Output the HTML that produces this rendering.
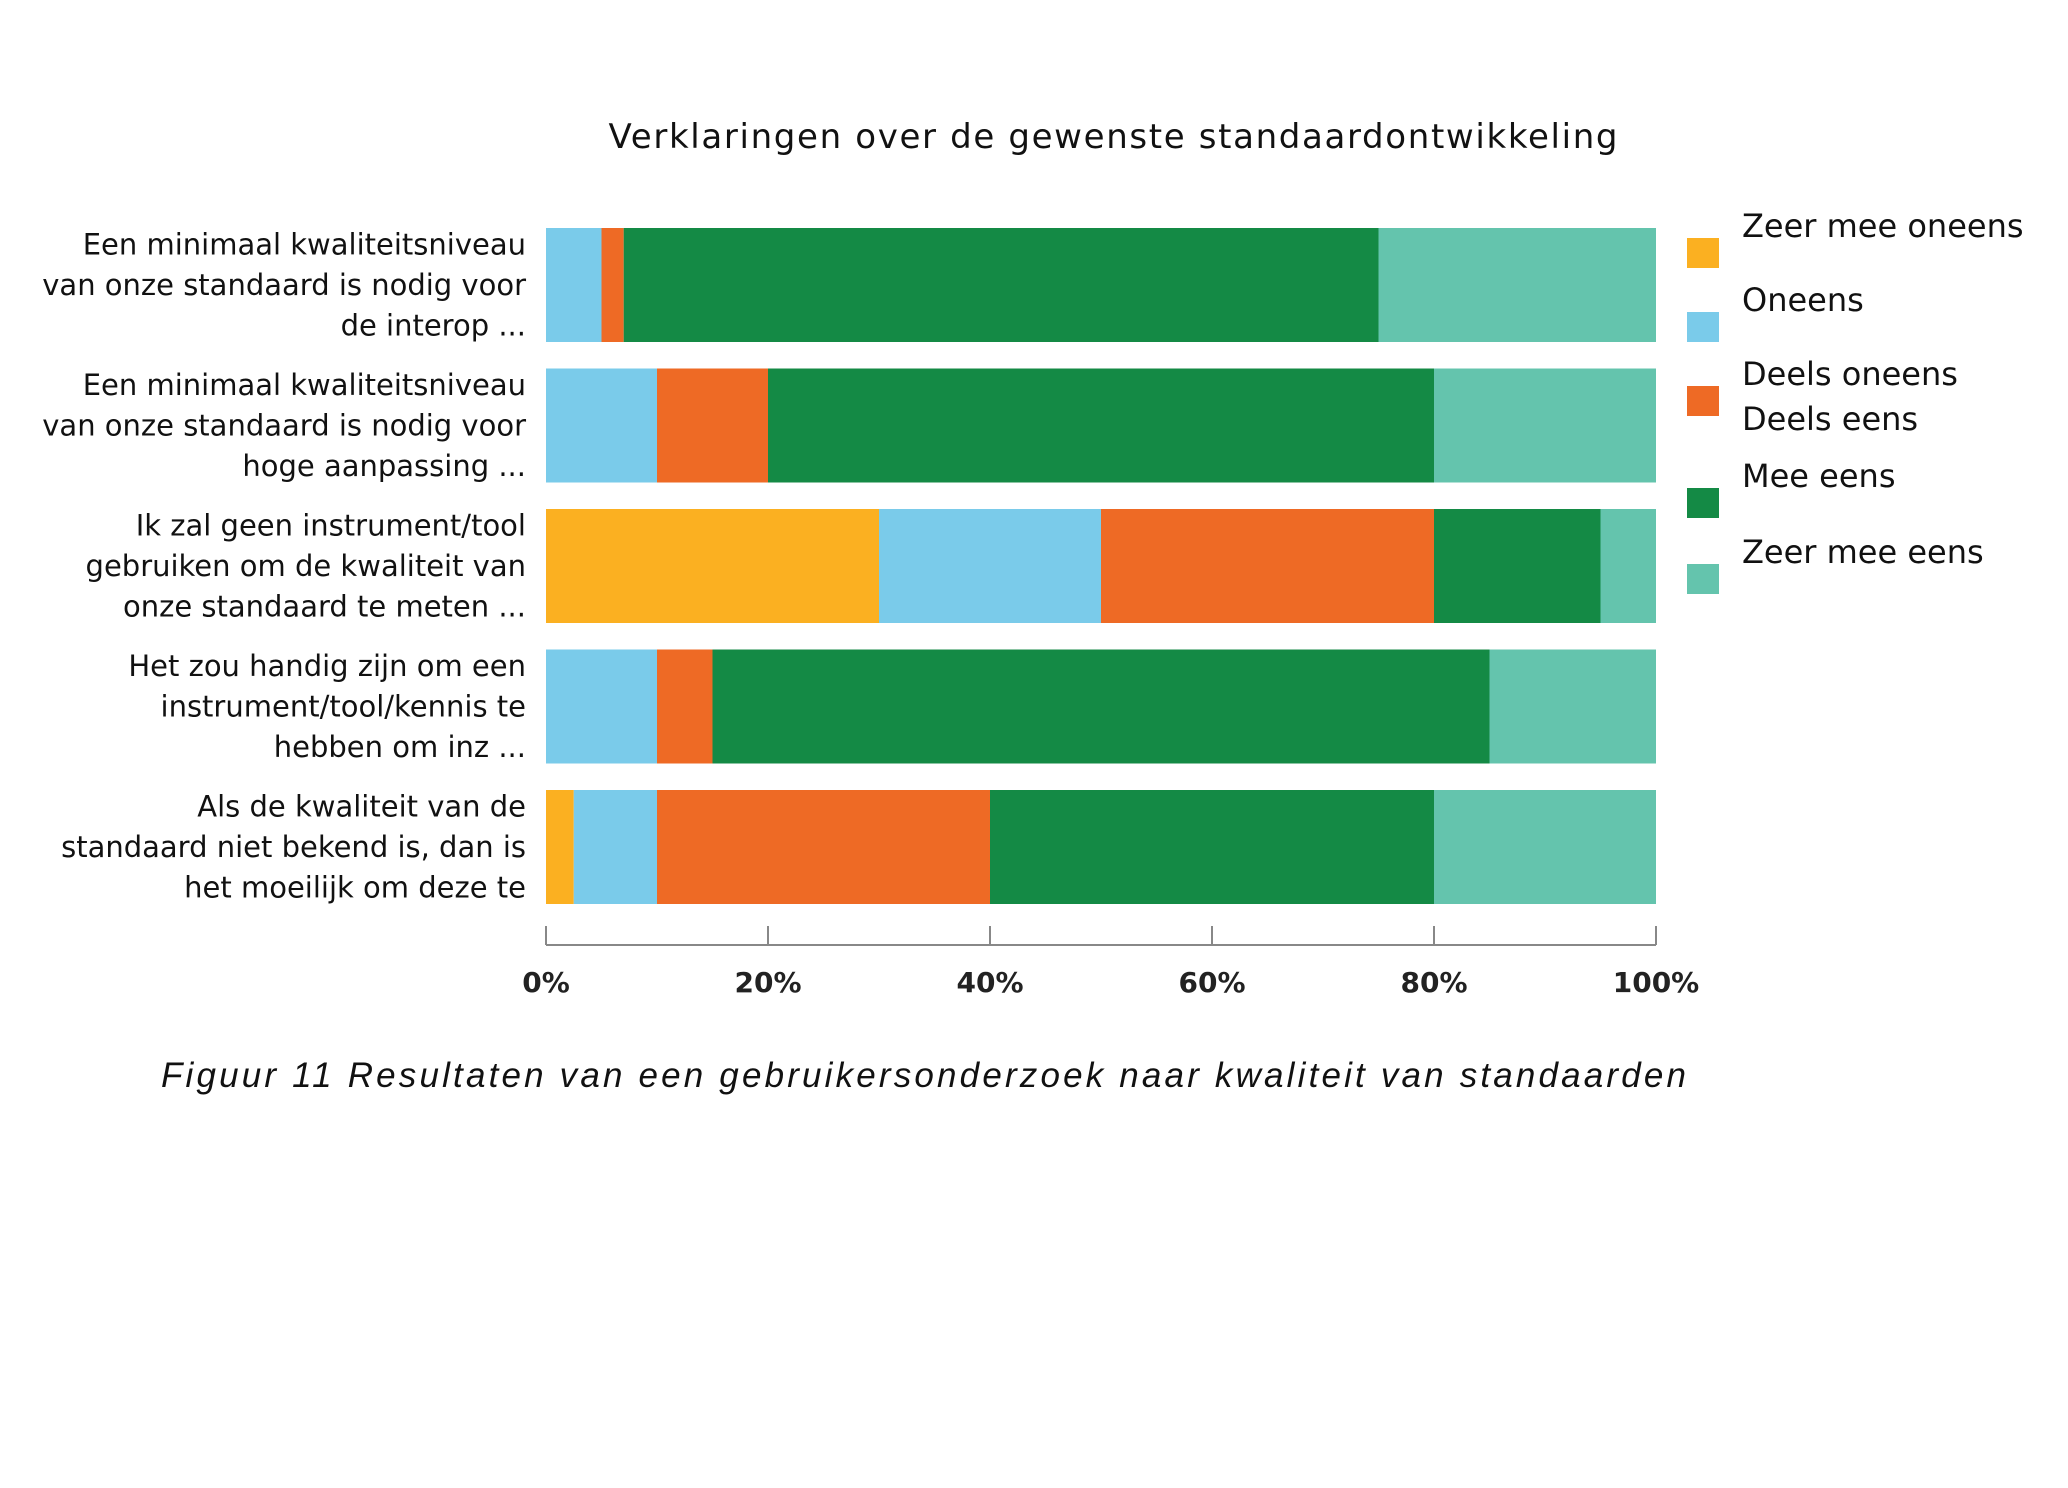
<!DOCTYPE html>
<html><head><meta charset="utf-8"><style>
html,body{margin:0;padding:0;background:#fff;}
svg{display:block;}
</style></head><body>
<svg id="chart" width="2068" height="1488" viewBox="0 0 2068 1488" xmlns="http://www.w3.org/2000/svg">
<rect width="2068" height="1488" fill="#fff"/>
<text x="1113" y="148" text-anchor="middle" font-family="DejaVu Sans, sans-serif" font-size="34" textLength="1009" fill="#111">Verklaringen over de gewenste standaardontwikkeling</text>
<g id="bars"></g>
<g id="labels"></g>
<g id="axis"></g>
<g id="legend"></g>
<text x="161" y="1087" font-family="Liberation Sans, sans-serif" font-style="italic" font-size="35" textLength="1525" fill="#111">Figuur 11 Resultaten van een gebruikersonderzoek naar kwaliteit van standaarden</text>
</svg>
<script>
const categories = [
  ["Een minimaal kwaliteitsniveau","van onze standaard is nodig voor","de interop ..."],
  ["Een minimaal kwaliteitsniveau","van onze standaard is nodig voor","hoge aanpassing ..."],
  ["Ik zal geen instrument/tool","gebruiken om de kwaliteit van","onze standaard te meten ..."],
  ["Het zou handig zijn om een","instrument/tool/kennis te","hebben om inz ..."],
  ["Als de kwaliteit van de","standaard niet bekend is, dan is","het moeilijk om deze te"]
];
const seriesNames = ["Zeer mee oneens","Oneens","Deels oneens Deels eens","Mee eens","Zeer mee eens"];
const zeerOneens = [0,0,30,0,2.5];
const oneens = [5,10,20,10,7.5];
const deels = [2,10,30,5,30];
const meeEens = [68,60,15,70,40];
const zeerEens = [25,20,5,15,20];
const tickValues = [0,20,40,60,80,100];
const tickLabels = ["0%","20%","40%","60%","80%","100%"];

const colors = ["#FBB021","#7ACBEA","#EE6A25","#148A45","#64C4AD"];
const series = [zeerOneens,oneens,deels,meeEens,zeerEens];
const NS="http://www.w3.org/2000/svg";
const x0=546,x1=1656,top0=228,step=140.5,bh=114;
const xs=v=>x0+(x1-x0)*v/100;
const ys=i=>top0+i*step;
function mk(tag,attrs,parent){const e=document.createElementNS(NS,tag);for(const k in attrs)e.setAttribute(k,attrs[k]);parent.appendChild(e);return e;}
const bars=document.getElementById('bars');
categories.forEach((c,i)=>{
  let acc=0;
  series.forEach((s,j)=>{
    const v=s[i];
    if(v>0){
      const r=mk('rect',{x:xs(acc),y:ys(i),width:xs(acc+v)-xs(acc),height:bh,fill:colors[j]},bars);
      
      
    }
    acc+=v;
  });
});
const labels=document.getElementById('labels');
categories.forEach((lines,i)=>{
  const cy=ys(i)+bh/2;
  lines.forEach((ln,k)=>{
    const t=mk('text',{x:526,y:cy+(k-1)*40.6+10,'text-anchor':'end','font-family':'DejaVu Sans, sans-serif','font-size':'29',fill:'#111'},labels);
    
    
    t.textContent=ln;
  });
});
const axis=document.getElementById('axis');
const al=mk('line',{x1:x0,x2:x1,y1:945,y2:945,stroke:'#888','stroke-width':2},axis);


tickValues.forEach((v,i)=>{
  const tk=mk('line',{x1:xs(v),x2:xs(v),y1:926,y2:945,stroke:'#888','stroke-width':2},axis);
  
  
  const t=mk('text',{x:xs(v),y:992,'text-anchor':'middle','font-family':'DejaVu Sans, sans-serif','font-size':'28','font-weight':'bold',fill:'#222'},axis);
  
  
  t.textContent=tickLabels[i];
});
const legend=document.getElementById('legend');
const legY=[240,314,388,490,566];
seriesNames.forEach((n,j)=>{
  const sq=mk('rect',{x:1687,y:legY[j]-2,width:32,height:30,fill:colors[j]},legend);
  
  
  const parts=j===2?["Deels oneens","Deels eens"]:[n];
  parts.forEach((p,k)=>{
    const t=mk('text',{x:1742,y:legY[j]-3+k*45,'font-family':'DejaVu Sans, sans-serif','font-size':'32',fill:'#111'},legend);
    
    
    t.textContent=p;
  });
});
</script>
</body></html>
